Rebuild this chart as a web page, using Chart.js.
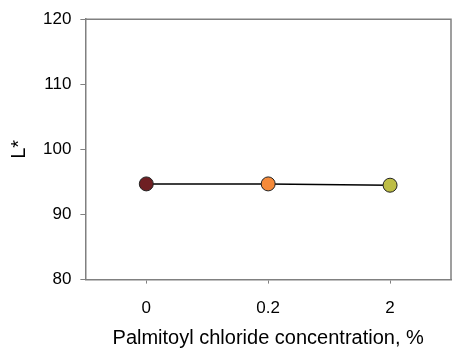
<!DOCTYPE html>
<html>
<head>
<meta charset="utf-8">
<script src="https://cdn.jsdelivr.net/npm/chart.js@4"></script>
<style>
html,body{margin:0;padding:0;background:#fff;}
#wrap{width:459px;height:356px;position:relative;}
</style>
</head>
<body>
<div id="wrap"><canvas id="c" width="459" height="356"></canvas></div>
<script>
const categories = ["0", "0.2", "2"];
const lValues = [94.7, 94.7, 94.5];
const pointColors = ["#6E1F23", "#F58A3A", "#BDBD45"];
const yTicks = [80, 90, 100, 110, 120];

const boxPlugin = {
  id: 'box',
  afterDraw(chart) {
    const a = chart.chartArea, ctx = chart.ctx;
    ctx.save();
    ctx.strokeStyle = '#808080';
    ctx.lineWidth = 1.5;
    ctx.beginPath();
    ctx.moveTo(a.left, a.top);
    ctx.lineTo(a.right, a.top);
    ctx.lineTo(a.right, a.bottom);
    ctx.stroke();
    ctx.restore();
  }
};

new Chart(document.getElementById('c'), {
  type: 'line',
  data: {
    labels: categories,
    datasets: [{
      data: lValues,
      borderColor: '#000',
      borderWidth: 1.5,
      pointBackgroundColor: pointColors,
      pointBorderColor: '#222',
      pointBorderWidth: 1,
      pointRadius: 7,
      tension: 0
    }]
  },
  options: {
    responsive: false,
    animation: false,
    devicePixelRatio: 1,
    layout: { padding: { top: 12, right: 8, left: 7, bottom: 6 } },
    plugins: { legend: { display: false }, tooltip: { enabled: false } },
    scales: {
      x: {
        type: 'category',
        offset: true,
        grid: { display: true, drawOnChartArea: false, drawTicks: true, tickLength: 4, color: '#808080', offset: false },
        border: { display: true, color: '#808080', width: 1.5 },
        ticks: { color: '#000', font: { family: 'Liberation Sans', size: 17 }, padding: 15 },
        title: { display: true, text: 'Palmitoyl chloride concentration, %', color: '#000', font: { family: 'Liberation Sans', size: 20 }, padding: { top: -8, bottom: 0 } }
      },
      y: {
        min: 80, max: 120,
        afterBuildTicks(scale) { scale.ticks = yTicks.map(v => ({ value: v })); },
        grid: { display: true, drawOnChartArea: false, drawTicks: true, tickLength: 5, color: '#808080' },
        border: { display: true, color: '#808080', width: 1.5 },
        ticks: { color: '#000', font: { family: 'Liberation Sans', size: 17 }, padding: 9 },
        title: { display: true, text: 'L*', color: '#000', font: { family: 'Liberation Sans', size: 20 }, padding: { top: 0, bottom: 3 } }
      }
    }
  },
  plugins: [boxPlugin]
});
</script>
</body>
</html>
